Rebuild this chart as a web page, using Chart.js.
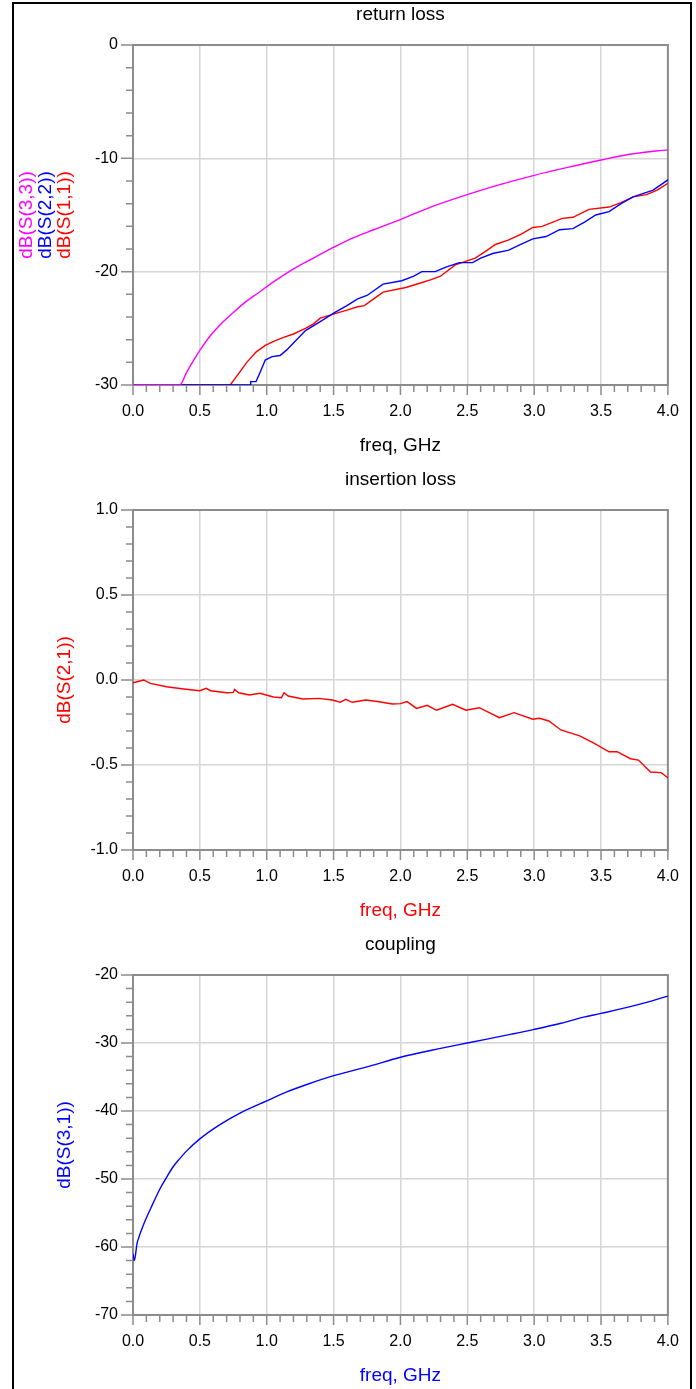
<!DOCTYPE html>
<html>
<head>
<meta charset="utf-8">
<script src="https://cdn.jsdelivr.net/npm/chart.js@4.4.1/dist/chart.umd.min.js"></script>
<style>
  body { margin: 0; background: #fff; width: 696px; height: 1389px; position: relative; overflow: hidden; }
  #frame { position: absolute; left: 12px; top: 2px; width: 676px; height: 1420px; border: 2px solid #000; border-bottom: none; }
  .box { position: absolute; left: 0; width: 696px; height: 466px; }
</style>
</head>
<body>
<div id="frame"></div>
<div class="box" style="top:1px"><canvas id="returnLoss" width="696" height="466"></canvas></div>
<div class="box" style="top:466px"><canvas id="insertionLoss" width="696" height="466"></canvas></div>
<div class="box" style="top:931px"><canvas id="coupling" width="696" height="466"></canvas></div>
<script>
// return loss, dB (values under -30 sit on the bottom edge like in the plot)
const s33Freq = [0.0, 0.35, 0.40, 0.46, 0.52, 0.575, 0.65, 0.75, 0.85, 0.934, 1.05, 1.18, 1.35, 1.51, 1.65, 1.8, 2.0, 2.25, 2.5, 2.75, 3.0, 3.25, 3.5, 3.74, 4.0];
const s33Db   = [-30, -30, -28.9, -27.7, -26.6, -25.7, -24.7, -23.6, -22.6, -21.9, -20.9, -19.9, -18.8, -17.8, -17.0, -16.3, -15.4, -14.2, -13.2, -12.3, -11.5, -10.8, -10.15, -9.6, -9.25];

const s22Freq = [0.0, 0.878, 0.88, 0.92, 0.95, 0.989, 1.04, 1.10, 1.15, 1.2, 1.29, 1.4, 1.51, 1.6, 1.68, 1.75, 1.87, 2.01, 2.1, 2.16, 2.26, 2.34, 2.44, 2.54, 2.6, 2.69, 2.81, 2.9, 2.99, 3.09, 3.19, 3.29, 3.38, 3.46, 3.56, 3.65, 3.74, 3.89, 4.0];
const s22Db   = [-30, -30, -29.7, -29.7, -28.9, -27.8, -27.5, -27.4, -26.9, -26.3, -25.2, -24.4, -23.6, -23.0, -22.4, -22.1, -21.1, -20.8, -20.4, -20.0, -20.0, -19.6, -19.2, -19.2, -18.8, -18.4, -18.1, -17.6, -17.1, -16.9, -16.3, -16.2, -15.6, -15.0, -14.7, -14.0, -13.4, -12.8, -11.9];

const s11Freq = [0.0, 0.727, 0.79, 0.851, 0.92, 0.989, 1.06, 1.127, 1.2, 1.29, 1.35, 1.4, 1.51, 1.6, 1.68, 1.73, 1.8, 1.87, 2.04, 2.15, 2.23, 2.3, 2.41, 2.56, 2.65, 2.71, 2.81, 2.9, 2.99, 3.06, 3.21, 3.29, 3.41, 3.56, 3.65, 3.74, 3.84, 3.92, 4.0];
const s11Db   = [-30, -30, -29.0, -28.0, -27.1, -26.5, -26.1, -25.8, -25.5, -25.0, -24.6, -24.1, -23.7, -23.4, -23.1, -23.0, -22.4, -21.8, -21.4, -21.0, -20.7, -20.4, -19.4, -18.8, -18.1, -17.6, -17.2, -16.7, -16.1, -16.0, -15.3, -15.2, -14.5, -14.3, -13.9, -13.4, -13.2, -12.8, -12.2];

// insertion loss, dB
const s21Freq = [0, 0.03, 0.08, 0.13, 0.25, 0.38, 0.50, 0.547, 0.58, 0.70, 0.75, 0.76, 0.79, 0.87, 0.95, 1.05, 1.11, 1.13, 1.16, 1.27, 1.39, 1.49, 1.55, 1.59, 1.64, 1.74, 1.84, 1.94, 2.0, 2.05, 2.12, 2.20, 2.27, 2.39, 2.49, 2.59, 2.74, 2.85, 2.99, 3.04, 3.11, 3.20, 3.34, 3.44, 3.56, 3.62, 3.72, 3.78, 3.87, 3.95, 4.0];
const s21Db   = [-0.016, -0.01, 0.0, -0.02, -0.04, -0.053, -0.063, -0.049, -0.063, -0.075, -0.073, -0.055, -0.075, -0.088, -0.078, -0.10, -0.104, -0.075, -0.094, -0.112, -0.108, -0.118, -0.131, -0.114, -0.131, -0.118, -0.128, -0.141, -0.139, -0.127, -0.167, -0.149, -0.178, -0.143, -0.178, -0.163, -0.222, -0.192, -0.231, -0.225, -0.241, -0.294, -0.329, -0.369, -0.422, -0.422, -0.463, -0.471, -0.541, -0.545, -0.575];

// coupling, dB
const s31Freq = [0, 0.01, 0.03, 0.04, 0.077, 0.14, 0.2, 0.256, 0.3, 0.35, 0.4, 0.5, 0.65, 0.8, 1.0, 1.15, 1.3, 1.5, 1.77, 2.0, 2.3, 2.5, 2.83, 3.0, 3.2, 3.37, 3.5, 3.77, 4.0];
const s31Db   = [-61.0, -62.0, -59.5, -58.8, -56.8, -54.0, -51.5, -49.6, -48.2, -47.0, -45.9, -44.1, -42.0, -40.3, -38.5, -37.2, -36.1, -34.8, -33.4, -32.1, -30.8, -30.0, -28.7, -28.0, -27.1, -26.2, -25.65, -24.4, -23.1];

const FONT = '"Liberation Sans", Arial, sans-serif';

function pts(xs, ys) { return xs.map((x, i) => ({ x: x, y: ys[i] })); }
function isMajor(v, step) { return Math.abs(v / step - Math.round(v / step)) < 1e-6; }

const decor = {
  id: 'decor',
  beforeDatasetsDraw(chart, args, o) {
    const { ctx, chartArea: a, scales: { x, y } } = chart;
    ctx.save();
    ctx.strokeStyle = '#8c8c8c';
    ctx.lineWidth = 1.5;
    ctx.beginPath();
    x.ticks.forEach(t => {
      const px = x.getPixelForValue(t.value);
      const len = isMajor(t.value, 0.5) ? 10 : 7;
      ctx.moveTo(px, a.bottom); ctx.lineTo(px, a.bottom + len);
    });
    y.ticks.forEach(t => {
      const py = y.getPixelForValue(t.value);
      const len = isMajor(t.value, o.yMajor) ? 12 : 7;
      ctx.moveTo(a.left, py); ctx.lineTo(a.left - len, py);
    });
    ctx.stroke();
    ctx.lineWidth = 2;
    ctx.strokeRect(a.left, a.top, a.right - a.left, a.bottom - a.top);
    ctx.restore();
  },
  afterDraw(chart, args, o) {
    const { ctx, chartArea: a } = chart;
    const cx = (a.left + a.right) / 2, cy = (a.top + a.bottom) / 2;
    ctx.save();
    ctx.font = '19px ' + FONT;
    ctx.textAlign = 'center';
    ctx.textBaseline = 'middle';
    ctx.fillStyle = '#000';
    ctx.fillText(o.title, cx, a.top - 30);
    ctx.fillStyle = o.xColor;
    ctx.fillText('freq, GHz', cx, a.bottom + 61);
    o.yTitles.forEach(t => {
      ctx.save();
      ctx.translate(t.x, cy);
      ctx.rotate(-Math.PI / 2);
      ctx.fillStyle = t.color;
      ctx.fillText(t.text, 0, 0);
      ctx.restore();
    });
    ctx.restore();
  }
};

function makeChart(id, datasets, yMin, yMax, yStep, yMajor, yDigits, title, yTitles, xColor) {
  new Chart(document.getElementById(id), {
    type: 'line',
    data: { datasets: datasets.map(d => ({
      data: d.data, borderColor: d.color, borderWidth: 1.4, pointRadius: 0,
      cubicInterpolationMode: d.smooth ? 'monotone' : 'default', tension: 0, fill: false
    })) },
    options: {
      responsive: false,
      animation: false,
      layout: { padding: { top: 44, right: 25, left: 0, bottom: 0 } },
      plugins: {
        legend: { display: false },
        tooltip: { enabled: false },
        decor: { title: title, yTitles: yTitles, xColor: xColor, yMajor: yMajor }
      },
      scales: {
        x: {
          type: 'linear', min: 0, max: 4,
          afterFit(s) { s.height = 82; },
          border: { display: false },
          grid: { drawTicks: false, lineWidth: 1.5,
            color: c => (c.tick && isMajor(c.tick.value, 0.5)) ? '#d6d6d6' : 'rgba(0,0,0,0)' },
          ticks: { stepSize: 0.1, autoSkip: false, maxRotation: 0, padding: 17, color: '#000',
            font: { family: FONT, size: 16 },
            callback: v => isMajor(v, 0.5) ? v.toFixed(1) : '' }
        },
        y: {
          min: yMin, max: yMax,
          afterFit(s) { s.width = 133; },
          border: { display: false },
          grid: { drawTicks: false, lineWidth: 1.5,
            color: c => (c.tick && isMajor(c.tick.value, yMajor)) ? '#d6d6d6' : 'rgba(0,0,0,0)' },
          ticks: { stepSize: yStep, autoSkip: false, padding: 15, color: '#000',
            font: { family: FONT, size: 16 },
            callback: v => isMajor(v, yMajor) ? v.toFixed(yDigits) : '' }
        }
      }
    },
    plugins: [decor]
  });
}

makeChart('returnLoss', [
  { data: pts(s33Freq, s33Db), color: '#ff00ff', smooth: true },
  { data: pts(s22Freq, s22Db), color: '#0000ff' },
  { data: pts(s11Freq, s11Db), color: '#ff0000' }
], -30, 0, 2, 10, 0, 'return loss', [
  { text: 'dB(S(3,3))', color: '#ff00ff', x: 27 },
  { text: 'dB(S(2,2))', color: '#0000ff', x: 46 },
  { text: 'dB(S(1,1))', color: '#ff0000', x: 65 }
], '#000');

makeChart('insertionLoss', [
  { data: pts(s21Freq, s21Db), color: '#ff0000' }
], -1, 1, 0.1, 0.5, 1, 'insertion loss', [
  { text: 'dB(S(2,1))', color: '#ff0000', x: 65 }
], '#ff0000');

makeChart('coupling', [
  { data: pts(s31Freq, s31Db), color: '#0000ff', smooth: true }
], -70, -20, 2, 10, 0, 'coupling', [
  { text: 'dB(S(3,1))', color: '#0000ff', x: 65 }
], '#0000ff');
</script>
</body>
</html>
